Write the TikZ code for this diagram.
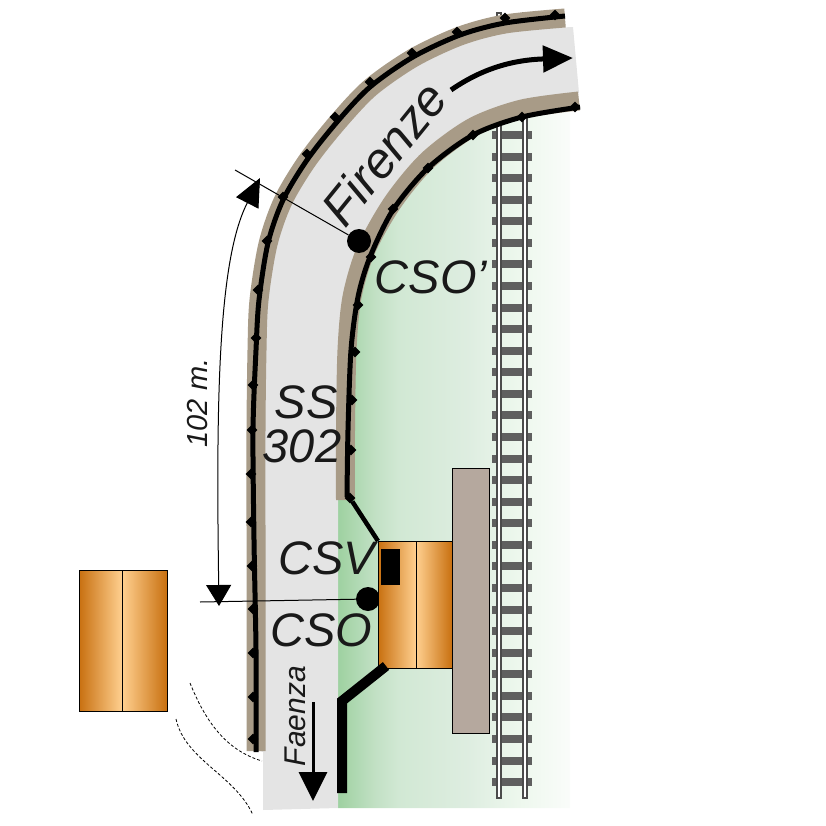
\documentclass[tikz,border=0pt]{standalone}
\usepackage{fontspec}
\setmainfont{Liberation Sans}
\usetikzlibrary{arrows.meta,positioning,shapes.geometric}
\definecolor{roadgrey}{RGB}{228,228,228}
\definecolor{kerb}{RGB}{168,155,135}
\definecolor{hutdark}{RGB}{200,112,16}
\definecolor{hutlight}{RGB}{255,208,144}
\definecolor{platform}{RGB}{181,168,158}
\definecolor{sleeper}{RGB}{95,95,95}
\definecolor{rail}{RGB}{75,75,75}
\pgfdeclarehorizontalshading{greenfade}{100bp}{rgb(0bp)=(.62,.82,.63); rgb(25bp)=(.62,.82,.63); rgb(33bp)=(.76,.88,.77); rgb(38bp)=(.82,.91,.83); rgb(53bp)=(.87,.93,.88); rgb(64bp)=(.93,.97,.93); rgb(75bp)=(.98,.99,.98); rgb(100bp)=(.98,.99,.98)}
\tikzset{
	hutleft/.style={rectangle,draw=black,line width=1pt,left color=hutdark,right color=hutlight,inner sep=0pt,outer sep=0pt},
	hutright/.style={rectangle,draw=black,line width=1pt,left color=hutlight,right color=hutdark,inner sep=0pt,outer sep=0pt},
	post/.style={diamond,fill=black,inner sep=0pt,minimum size=11pt},
	bigdot/.style={circle,fill=black,inner sep=0pt,minimum size=24pt},
	label/.style={font=\fontsize{47}{44}\selectfont\itshape,text=black!90,inner sep=0pt,align=center},
	smalllabel/.style={label,font=\fontsize{29}{29}\selectfont\itshape,rotate=90}}

\begin{document}
\begin{tikzpicture}[x=1pt,y=-1pt]
	\useasboundingbox (0,0) rectangle (826,826);

	% green ground
	\shade[shading=greenfade] (338,808) -- (338,400) -- (350,250) -- (430,150) -- (570,90) -- (570,808) -- cycle;

	% railway
	\foreach \i in {0,...,30}
		\fill[sleeper] (492,135+\i*21.57-4) rectangle (532,135+\i*21.57+4);
	\foreach \x in {497,523}
		\draw[rail,fill=white,line width=1.2pt] (\x,13) rectangle (\x+4,798);

	% road
	\fill[roadgrey] (263,810) -- (338,808) -- (338,500) -- (345,330) -- (360,270) -- (395,195) -- (430,155) -- (475,122) -- (525,103) -- (579,93) -- (573,27) -- (505,30) -- (460,42) -- (413,65) -- (370,95) -- (337,130) -- (307,170) -- (283,210) -- (268,250) -- (258,300) -- (256,750) -- (263,752) -- cycle;
	\draw[kerb,line width=19pt] plot[smooth] coordinates {(565,18) (505,24) (460,36) (413,58) (370,88) (337,123) (307,161) (283,201) (268,244) (259,300) (257,350) (256,430) (256,540) (256,751)};
	\draw[kerb,line width=19pt] plot[smooth] coordinates {(579,101) (522,109) (473,127) (428,160) (393,202) (366,250) (352,297) (347,350) (345.5,430) (345.5,500)};
	\draw[line width=5pt] plot[smooth] coordinates {(565,16) (505,23) (460,35) (413,57) (370,87) (337,122) (307,160) (283,200) (268,243) (259,300) (256,350) (253,430) (254,540) (256,650) (256,752)};
	\draw[line width=5pt] plot[smooth] coordinates {(580,107) (522,117) (473,135) (428,168) (393,210) (370,257) (358,297) (351,350) (348,430) (347,497)};

	% posts on both kerbs
	\foreach \p [count=\i] in {(555,15),(505,18),(457,32),(412,53),(370,82),(335,117),(307,154),(283,197),(267,241),(258,290),(256,338),(253,385),(252,430),(251,474),(251,522),(252,566),(253,609),(253,653),(253,697),(253,739)}
		\node[post] (out\i) at \p {};
	\foreach \p [count=\i] in {(575,107),(522,117),(473,135),(428,168),(393,209),(371,257),(358,305),(355,352),(352,400),(351,450),(350,498)}
		\node[post] (in\i) at \p {};

	% dots and measures
	\node[bigdot] (cso) at (368,599) {};
	\node[bigdot] (csop) at (359,241) {};
	\coordinate (tickA) at (200,602);
	\coordinate (tickB) at (235,170);
	\coordinate (endA) at (219,606);
	\coordinate (endB) at (260,178);
	\draw[line width=1pt] (tickA) -- (cso);
	\draw[line width=1pt] (tickB) -- (csop);
	\draw[line width=1pt,{Triangle[length=21pt,width=25pt]}-{Triangle[length=28pt,width=25pt]}] (endA) .. controls (216,400) and (218,260) .. (endB);

	% hut and platform
	\node[rectangle,draw=black,line width=1pt,fill=platform,minimum width=37pt,minimum height=265pt,inner sep=0pt] (plat) at (470.5,600.5) {};
	\node[hutleft,minimum width=38pt,minimum height=127pt] (hutA) at (397,604.5) {};
	\node[hutright,minimum width=36pt,minimum height=127pt,right=0pt of hutA] (hutB) {};
	\node[hutleft,minimum width=43pt,minimum height=141pt] (farA) at (100.5,640.5) {};
	\node[hutright,minimum width=45pt,minimum height=141pt,right=0pt of farA] (farB) {};
	\node[rectangle,fill=black,minimum width=19pt,minimum height=36pt,inner sep=0pt] (door) at (390.5,567) {};

	% walls
	\coordinate (wallA) at (342,793);
	\coordinate (wallB) at (342,701);
	\coordinate (wallC) at (386,666);
	\draw[line width=10pt] (wallA) -- (wallB) -- (wallC);
	\draw[line width=4.5pt] (in11) -- (hutA.north west);

	% dashed edges
	\coordinate (edgeA) at (190,683);
	\coordinate (edgeB) at (262,761);
	\coordinate (edgeC) at (176,719);
	\coordinate (edgeD) at (253,815);
	\draw[densely dashed,line width=.8pt] (edgeA) .. controls (205,720) and (225,750) .. (edgeB);
	\draw[densely dashed,line width=.8pt] (edgeC) .. controls (185,760) and (235,775) .. (edgeD);

	% direction arrows
	\coordinate (upA) at (451,90);
	\coordinate (upB) at (573,58);
	\coordinate (downA) at (313,702);
	\coordinate (downB) at (313,801);
	\draw[line width=5pt,-{Triangle[length=30pt,width=26pt]}] (upA) .. controls (480,70) and (510,60) .. (upB);
	\draw[line width=3pt,-{Triangle[length=29pt,width=28pt]}] (downA) -- (downB);

	% labels
	\node[label,font=\fontsize{50}{50}\selectfont\itshape,rotate=51] (firenze) at (384,153) {Firenze};
	\node[label] (csolabel) at (431,277) {CSO'};
	\node[label] (sslabel) at (302,424) {\hspace*{8pt}SS\\302};
	\node[label] (csvlabel) at (327,558) {CSV};
	\node[label] (csobottom) at (321,630) {CSO};
	\node[smalllabel,font=\fontsize{30}{30}\selectfont\itshape] (faenza) at (295,716) {Faenza};
	\node[smalllabel] (dist) at (198,403) {102 m.};
\end{tikzpicture}
\end{document}
